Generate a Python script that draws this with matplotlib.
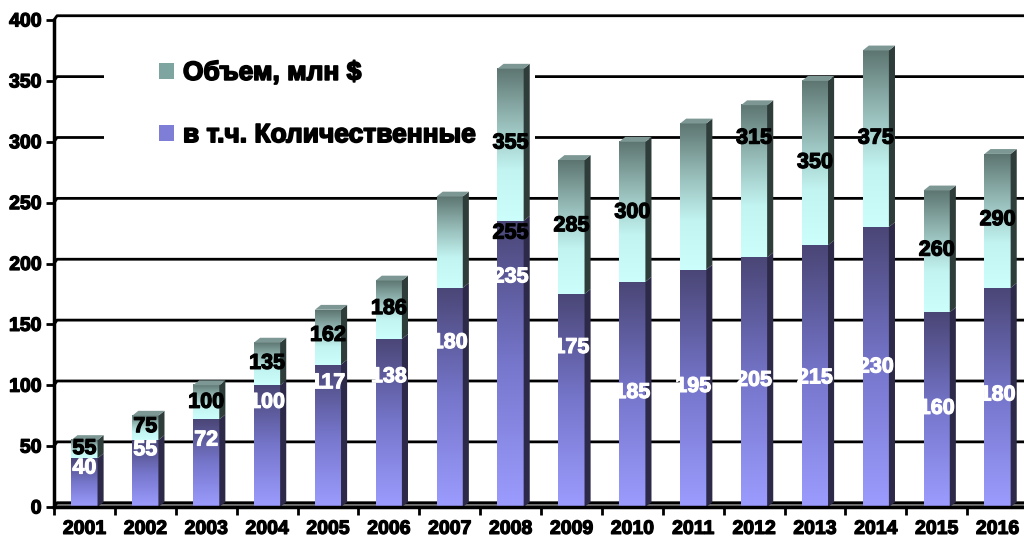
import matplotlib
matplotlib.use("Agg")  # headless plotting

import matplotlib.pyplot as plt
import matplotlib.patheffects as pe
from matplotlib.colors import LinearSegmentedColormap
from matplotlib.patches import Polygon, Rectangle, Patch
import numpy as np

plt.rcParams['font.family'] = ['Liberation Sans', 'DejaVu Sans']

years = ['2001', '2002', '2003', '2004', '2005', '2006', '2007', '2008',
         '2009', '2010', '2011', '2012', '2013', '2014', '2015', '2016']
total = [55, 75, 100, 135, 162, 186, 255, 360, 285, 300, 315, 330, 350, 375, 260, 290]
quant = [40, 55, 72, 100, 117, 138, 180, 235, 175, 185, 195, 205, 215, 230, 160, 180]

# data labels as they appear on the slide (hand placed in the original)
total_text = ['55', '75', '100', '135', '162', '186', '255', '355',
              '285', '300', '', '315', '350', '375', '260', '290']
total_text_x = [0, 1, 2, 3, 4, 5, 7, 7, 8, 9, 10, 11, 12, 13, 14, 15]
total_text_y = [48, 66, 86, 118, 141, 163, 225, 299, 231, 242, 0, 303, 283, 303, 211, 236]
quant_text = ['40', '55', '72', '100', '117', '138', '180', '235',
              '175', '185', '195', '205', '215', '230', '160', '180']
quant_text_y = [32, 47, 55, 86, 102, 107, 135, 189, 131, 94, 99, 104, 106, 115, 81, 92]

legend_labels = ['Объем, млн $', 'в т.ч. Количественные']

cmap_top = LinearSegmentedColormap.from_list(
    'top', ['#ccfffc', '#c2f4f1', '#94b9b5', '#5d7571'])
cmap_bot = LinearSegmentedColormap.from_list(
    'bot', ['#9c9cff', '#7676cc', '#4a4676'])
grad = np.linspace(0, 1, 256).reshape(-1, 1)

heavy = [pe.withStroke(linewidth=0.9, foreground='black')]

fig = plt.figure(figsize=(10.24, 5.42), dpi=100)
ax = fig.add_axes([54 / 1024, 35 / 542, 974 / 1024, 487 / 542])
ax.set_xlim(-0.5, 15.5)
ax.set_ylim(0, 400)
ax.set_autoscale_on(False)

bw = 0.215   # half width of bar front
dx, dy = 0.1, 4.0   # 3d depth offset in data units
gdx, gdy = 0.05, 3.5

# back wall gridlines and floor
ax.add_patch(Polygon([(-0.5, 0), (-0.5 + gdx, gdy), (16, gdy), (16, 0)],
                     closed=True, facecolor='#808080', edgecolor='none',
                     zorder=1, clip_on=False))
for v in range(0, 401, 50):
    ax.plot([-0.5, -0.5 + gdx, 16], [v, v + gdy, v + gdy], color='black',
            lw=2.0, zorder=2, clip_on=False, solid_capstyle='butt')

# white block behind the legend
ax.add_patch(Rectangle((0.051, 0.705), 0.443, 0.225, transform=ax.transAxes,
                       facecolor='white', edgecolor='none', zorder=4))

for i in range(len(years)):
    x0, x1 = i - bw, i + bw
    q, t = quant[i], total[i]
    ax.imshow(grad, extent=[x0, x1, 0, q], origin='lower', cmap=cmap_bot,
              aspect='auto', interpolation='bilinear', zorder=6)
    ax.imshow(grad, extent=[x0, x1, q, t], origin='lower', cmap=cmap_top,
              aspect='auto', interpolation='bilinear', zorder=6)
    ax.add_patch(Polygon([(x1, 0), (x1 + dx, dy), (x1 + dx, q + dy), (x1, q)],
                         facecolor='#2c2a48', edgecolor='none', zorder=6))
    ax.add_patch(Polygon([(x1, q), (x1 + dx, q + dy), (x1 + dx, t + dy), (x1, t)],
                         facecolor='#2e3c3a', edgecolor='none', zorder=6))
    ax.add_patch(Polygon([(x0, t), (x1, t), (x1 + dx, t + dy), (x0 + dx, t + dy)],
                         facecolor='#7d9894', edgecolor='none', zorder=6))

for xi, yv, s in zip(total_text_x, total_text_y, total_text):
    if s:
        ax.text(xi, yv, s, ha='center', va='center', fontsize=15.5,
                fontweight='bold', color='black', zorder=8, path_effects=heavy)
for i, (yv, s) in enumerate(zip(quant_text_y, quant_text)):
    ax.text(i, yv, s, ha='center', va='center', fontsize=15.5,
            fontweight='bold', color='white', zorder=8,
            path_effects=[pe.withStroke(linewidth=0.8, foreground='white')])

handles = [Patch(facecolor='#7fa5a1', edgecolor='none'),
           Patch(facecolor='#7e7ed6', edgecolor='none')]
leg = ax.legend(handles, legend_labels, loc='upper left',
                bbox_to_anchor=(0.108, 0.916), frameon=False,
                prop={'size': 19, 'weight': 'bold'}, labelspacing=1.45,
                handlelength=0.55, handleheight=0.55, handletextpad=0.35,
                borderaxespad=0, borderpad=0)
leg.set_zorder(5)
for txt in leg.get_texts():
    txt.set_path_effects([pe.withStroke(linewidth=1.2, foreground='black')])

ax.set_yticks(range(0, 401, 50))
ax.set_xticks(range(len(years)))
ax.set_xticklabels(years)
ax.set_xticks(np.arange(-0.5, 15.6, 1), minor=True)
ax.tick_params(axis='y', direction='out', length=6, width=2, labelsize=14, pad=3)
ax.tick_params(axis='x', which='major', length=0, labelsize=14, pad=10)
ax.tick_params(axis='x', which='minor', direction='out', length=6, width=2)
for lab in ax.get_xticklabels() + ax.get_yticklabels():
    lab.set_fontweight('bold')
    lab.set_path_effects(heavy)

for side in ['top', 'right']:
    ax.spines[side].set_visible(False)
for side in ['left', 'bottom']:
    ax.spines[side].set_linewidth(2.5)
    ax.spines[side].set_zorder(7)

fig.savefig('out.png', dpi=100)
plt.close(fig)
